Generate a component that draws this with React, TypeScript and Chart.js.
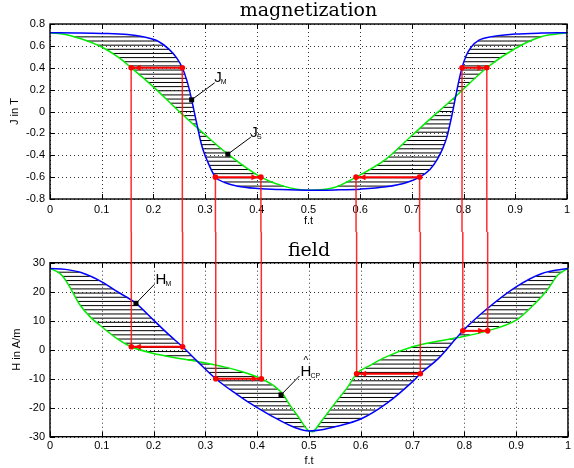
import React, { useEffect, useRef } from "react";
import { Chart, registerables } from "chart.js";

Chart.register(...registerables);

// ---------- data ----------
const xTicks = [0, 0.1, 0.2, 0.3, 0.4, 0.5, 0.6, 0.7, 0.8, 0.9, 1];
const jTicks = [-0.8, -0.6, -0.4, -0.2, 0, 0.2, 0.4, 0.6, 0.8];
const hTicks = [-30, -20, -10, 0, 10, 20, 30];

// magnetization J_M (blue)
const jmX = [0, 0.05, 0.1, 0.15, 0.18, 0.21, 0.23, 0.245, 0.256, 0.265, 0.272, 0.278, 0.282, 0.286, 0.29, 0.296, 0.305, 0.32, 0.338, 0.363, 0.402, 0.446, 0.5, 0.55, 0.6, 0.65, 0.69, 0.715, 0.735, 0.75, 0.76, 0.768, 0.774, 0.779, 0.784, 0.79, 0.797, 0.805, 0.815, 0.83, 0.86, 0.9, 0.95, 1];
const jmY = [0.72, 0.718, 0.714, 0.704, 0.683, 0.64, 0.57, 0.49, 0.4, 0.28, 0.15, 0.02, -0.07, -0.155, -0.245, -0.35, -0.46, -0.6, -0.649, -0.683, -0.704, -0.714, -0.72, -0.717, -0.71, -0.689, -0.649, -0.6, -0.53, -0.43, -0.335, -0.23, -0.11, 0.0, 0.12, 0.26, 0.4, 0.51, 0.59, 0.652, 0.689, 0.708, 0.717, 0.72];

// magnetization J_S (green)
const jsX = [0, 0.03, 0.06, 0.1, 0.134, 0.157, 0.2, 0.25, 0.286, 0.344, 0.408, 0.45, 0.5, 0.55, 0.592, 0.65, 0.7, 0.75, 0.783, 0.845, 0.9, 0.95, 1];
const jsY = [0.72, 0.705, 0.665, 0.59, 0.49, 0.4, 0.225, 0.0, -0.154, -0.39, -0.6, -0.68, -0.72, -0.695, -0.6, -0.435, -0.22, -0.006, 0.13, 0.4, 0.576, 0.683, 0.72];

// field H_M (blue)
const hmX = [0, 0.03, 0.06, 0.1, 0.13, 0.166, 0.2, 0.23, 0.256, 0.285, 0.32, 0.36, 0.4, 0.45, 0.475, 0.5, 0.525, 0.55, 0.6, 0.65, 0.7, 0.715, 0.75, 0.785, 0.797, 0.845, 0.9, 0.95, 1];
const hmY = [28, 27.7, 26.6, 23.4, 20.0, 16.0, 10.2, 5.1, 1.0, -4.1, -10, -15.3, -20, -25, -27, -28, -27.6, -26.6, -23.9, -18.5, -11.0, -8.3, -3.0, 4.1, 6.5, 14.3, 21.7, 26.3, 28];

// field H_CP (green)
const hsX = [0, 0.019, 0.03, 0.042, 0.058, 0.077, 0.1, 0.128, 0.157, 0.2, 0.237, 0.285, 0.34, 0.371, 0.408, 0.435, 0.451, 0.461, 0.48, 0.5, 0.509, 0.55, 0.575, 0.592, 0.62, 0.65, 0.7, 0.75, 0.785, 0.845, 0.9, 0.93, 0.96, 0.98, 1];
const hsY = [28, 26.3, 24, 20.4, 15.4, 11.4, 7.9, 4.0, 1.0, -1.3, -2.6, -4.1, -6.1, -7.6, -10, -12.8, -15.6, -18.5, -23.3, -28.0, -28.3, -18.5, -12.8, -8.3, -5.2, -2.4, 1.0, 3.0, 4.1, 6.5, 10.2, 14.8, 20.6, 25.7, 28];

// red construction arrows (blue point -> green point)
const arrowXBlue = [0.256, 0.32, 0.715, 0.797];
const arrowXGreen = [0.157, 0.408, 0.592, 0.845];
const arrowJ = [0.4, -0.6, -0.6, 0.4];
const arrowH = [1.0, -10, -8.3, 6.5];

// hatch spacing
const jHatchStep = 0.0379;
const hHatchStep = 1.44;

// annotations
const jLabelX = [0.274, 0.344];
const jLabelY = [0.107, -0.39];
const jLabelMain = ["J", "J"];
const jLabelSub = ["M", "S"];
const jLabelHat = [false, false];
const hLabelX = [0.166, 0.446];
const hLabelY = [16.0, -15.6];
const hLabelMain = ["H", "H"];
const hLabelSub = ["M", "CP"];
const hLabelHat = [false, true];

// ---------- helpers ----------
const FONT = '"Liberation Sans", Arial, sans-serif';
const SERIF = '"DejaVu Serif", serif';

const pts = (xs: number[], ys: number[]) => xs.map((x, i) => ({ x, y: ys[i] }));

function crossAt(xs: number[], ys: number[], level: number): number | null {
  for (let i = 0; i < xs.length - 1; i++) {
    const a = ys[i] - level;
    const b = ys[i + 1] - level;
    if (a === 0) return xs[i];
    if (a * b < 0) return xs[i] + ((xs[i + 1] - xs[i]) * a) / (a - b);
  }
  if (ys[ys.length - 1] === level) return xs[xs.length - 1];
  return null;
}

function splitAtMin(xs: number[], ys: number[]) {
  let k = 0;
  ys.forEach((v, i) => { if (v < ys[k]) k = i; });
  return [
    [xs.slice(0, k + 1), ys.slice(0, k + 1)],
    [xs.slice(k), ys.slice(k)],
  ];
}

function hatch(bx: number[], by: number[], gx: number[], gy: number[], step: number) {
  const b = splitAtMin(bx, by);
  const g = splitAtMin(gx, gy);
  const lo = Math.max(Math.min(...by), Math.min(...gy));
  const hi = Math.min(Math.max(...by), Math.max(...gy));
  const levels: number[] = [];
  for (let L = lo + step; L < hi; L += step) levels.push(L);
  const out: any[] = [];
  for (let h = 0; h < 2; h++) {
    for (const L of levels) {
      const xb = crossAt(b[h][0], b[h][1], L);
      const xg = crossAt(g[h][0], g[h][1], L);
      if (xb === null || xg === null) continue;
      out.push({ x: xg, y: L }, { x: xb, y: L }, { x: (xb + xg) / 2, y: null });
    }
  }
  return out;
}

const framePlugin = {
  id: "frame",
  beforeDatasetsDraw(chart: any) {
    const { ctx, chartArea: a } = chart;
    const sx = chart.scales.x;
    const sy = chart.scales.y;
    ctx.save();
    ctx.strokeStyle = "rgba(0,0,0,0.8)";
    ctx.lineWidth = 1;
    ctx.setLineDash([1, 3]);
    sx.ticks.forEach((t: any) => {
      const p = Math.round(sx.getPixelForValue(t.value)) + 0.5;
      ctx.beginPath(); ctx.moveTo(p, a.top); ctx.lineTo(p, a.bottom); ctx.stroke();
    });
    sy.ticks.forEach((t: any) => {
      const p = Math.round(sy.getPixelForValue(t.value)) + 0.5;
      ctx.beginPath(); ctx.moveTo(a.left, p); ctx.lineTo(a.right, p); ctx.stroke();
    });
    ctx.restore();
  },
  afterDatasetsDraw(chart: any) {
    const { ctx, chartArea: a } = chart;
    const sx = chart.scales.x;
    const sy = chart.scales.y;
    ctx.save();
    ctx.strokeStyle = "#000";
    ctx.lineWidth = 1.4;
    ctx.strokeRect(a.left, a.top, a.right - a.left, a.bottom - a.top);
    ctx.lineWidth = 1;
    const tl = 5;
    sx.ticks.forEach((t: any) => {
      const p = Math.round(sx.getPixelForValue(t.value)) + 0.5;
      ctx.beginPath();
      ctx.moveTo(p, a.bottom); ctx.lineTo(p, a.bottom - tl);
      ctx.moveTo(p, a.top); ctx.lineTo(p, a.top + tl);
      ctx.stroke();
    });
    sy.ticks.forEach((t: any) => {
      const p = Math.round(sy.getPixelForValue(t.value)) + 0.5;
      ctx.beginPath();
      ctx.moveTo(a.left, p); ctx.lineTo(a.left + tl, p);
      ctx.moveTo(a.right, p); ctx.lineTo(a.right - tl, p);
      ctx.stroke();
    });
    ctx.restore();
  },
};

function makeOverlay(
  levels: number[],
  down: boolean,
  lx: number[], ly: number[], lMain: string[], lSub: string[], lHat: boolean[],
  lead: [number, number], txt: [number, number]
) {
  return {
    id: "overlay",
    afterDraw(chart: any) {
      const { ctx } = chart;
      const sx = chart.scales.x;
      const sy = chart.scales.y;
      ctx.save();
      // vertical connectors
      ctx.strokeStyle = "rgba(255,20,20,0.9)";
      ctx.lineWidth = 1.5;
      for (let i = 0; i < levels.length; i++) {
        const py = sy.getPixelForValue(levels[i]);
        [arrowXBlue[i], arrowXGreen[i]].forEach((xv) => {
          const px = sx.getPixelForValue(xv);
          ctx.beginPath();
          ctx.moveTo(px, py);
          ctx.lineTo(px, down ? chart.height : 0);
          ctx.stroke();
        });
      }
      // horizontal arrows
      for (let i = 0; i < levels.length; i++) {
        const py = sy.getPixelForValue(levels[i]);
        const x1 = sx.getPixelForValue(arrowXBlue[i]);
        const x2 = sx.getPixelForValue(arrowXGreen[i]);
        const dir = Math.sign(x2 - x1);
        ctx.strokeStyle = "#ff0000";
        ctx.fillStyle = "#ff0000";
        ctx.lineWidth = 2;
        ctx.beginPath(); ctx.moveTo(x1, py); ctx.lineTo(x2, py); ctx.stroke();
        const tip = x2 - dir * 3.5;
        const base = tip - dir * 6;
        ctx.beginPath();
        ctx.moveTo(tip, py); ctx.lineTo(base, py - 3); ctx.lineTo(base, py + 3);
        ctx.closePath(); ctx.fill();
        [x1, x2].forEach((px) => {
          ctx.beginPath(); ctx.arc(px, py, 2.8, 0, Math.PI * 2); ctx.fill();
        });
      }
      // labels
      for (let i = 0; i < lx.length; i++) {
        const px = sx.getPixelForValue(lx[i]);
        const py = sy.getPixelForValue(ly[i]);
        ctx.fillStyle = "#000";
        ctx.strokeStyle = "#000";
        ctx.lineWidth = 1;
        ctx.beginPath(); ctx.moveTo(px, py); ctx.lineTo(px + lead[0], py + lead[1]); ctx.stroke();
        ctx.fillRect(px - 2.5, py - 2.5, 5, 5);
        const tx = px + txt[0];
        const ty = py + txt[1];
        ctx.textAlign = "left";
        ctx.textBaseline = "alphabetic";
        ctx.font = "15px " + FONT;
        ctx.fillText(lMain[i], tx, ty);
        const w = ctx.measureText(lMain[i]).width;
        if (lHat[i]) {
          ctx.font = "10px " + FONT;
          ctx.textAlign = "center";
          ctx.fillText("^", tx + w / 2, ty - 12.3);
          ctx.textAlign = "left";
        }
        ctx.font = "7px " + FONT;
        ctx.fillText(lSub[i], tx + w - 0.8, ty + 2);
      }
      ctx.restore();
    },
  };
}

function xScale(pad: number, height: number, titlePad: number) {
  return {
    type: "linear",
    min: 0,
    max: 1,
    grid: { display: false, drawTicks: false, tickLength: 0 },
    border: { display: false },
    afterBuildTicks: (s: any) => { s.ticks = xTicks.map((v) => ({ value: v })); },
    afterFit: (s: any) => { s.height = height; },
    ticks: { autoSkip: false, maxRotation: 0, minRotation: 0, padding: pad, color: "#000", font: { family: FONT, size: 11 }, callback: (v: any) => String(v) },
    title: { display: true, text: "f.t", color: "#000", font: { family: FONT, size: 11 }, padding: { top: 0, bottom: titlePad } },
  };
}

function yScale(min: number, max: number, ticks: number[], title: string, titlePad: number) {
  return {
    type: "linear",
    min,
    max,
    grid: { display: false, drawTicks: false, tickLength: 0 },
    border: { display: false },
    afterBuildTicks: (s: any) => { s.ticks = ticks.map((v) => ({ value: v })); },
    afterFit: (s: any) => { s.width = 50; },
    ticks: { autoSkip: false, padding: 5, color: "#000", font: { family: FONT, size: 11 }, callback: (v: any) => String(v) },
    title: { display: true, text: title, color: "#000", font: { family: FONT, size: 11 }, padding: { top: titlePad, bottom: 0 } },
  };
}

const curve = (data: any[], color: string) => ({
  data,
  borderColor: color,
  borderWidth: 1.5,
  pointRadius: 0,
  fill: false,
  cubicInterpolationMode: "monotone",
});

export default function App() {
  const topRef = useRef<HTMLCanvasElement>(null);
  const botRef = useRef<HTMLCanvasElement>(null);

  useEffect(() => {
    const hsSplit = splitAtMin(hsX, hsY);
    const common = {
      responsive: false,
      maintainAspectRatio: false,
      animation: false,
      events: [],
      layout: { autoPadding: false, padding: { left: 0, right: 1, top: 0, bottom: 0 } },
    };

    const top = new Chart(topRef.current as HTMLCanvasElement, {
      type: "line",
      data: {
        datasets: [
          curve(pts(jmX, jmY), "#0000ff"),
          curve(pts(jsX, jsY), "#00ee00"),
          { data: hatch(jmX, jmY, jsX, jsY, jHatchStep), borderColor: "#000", borderWidth: 1, pointRadius: 0, spanGaps: false, fill: false },
        ],
      } as any,
      options: {
        ...common,
        plugins: {
          legend: { display: false },
          tooltip: { enabled: false },
          title: { display: true, text: "magnetization", color: "#000", fullSize: false, font: { family: SERIF, size: 19, weight: "normal" }, padding: { top: 0, bottom: 1.2 } },
        },
        scales: { x: xScale(4, 33, 4.2), y: yScale(-0.8, 0.8, jTicks, "J in T", 8) },
      } as any,
      plugins: [framePlugin, makeOverlay(arrowJ, true, jLabelX, jLabelY, jLabelMain, jLabelSub, jLabelHat, [23, -17], [22.5, -17.3])],
    });

    const bot = new Chart(botRef.current as HTMLCanvasElement, {
      type: "line",
      data: {
        datasets: [
          curve(pts(hmX, hmY), "#0000ff"),
          curve(pts(hsSplit[0][0], hsSplit[0][1]), "#00ee00"),
          curve(pts(hsSplit[1][0], hsSplit[1][1]), "#00ee00"),
          { data: hatch(hmX, hmY, hsX, hsY, hHatchStep), borderColor: "#000", borderWidth: 1, pointRadius: 0, spanGaps: false, fill: false },
        ],
      } as any,
      options: {
        ...common,
        plugins: {
          legend: { display: false },
          tooltip: { enabled: false },
          title: { display: true, text: "field", color: "#000", fullSize: false, font: { family: SERIF, size: 19, weight: "normal" }, padding: { top: 7.6, bottom: 0.3 } },
        },
        scales: { x: xScale(3, 31.3, 0.2), y: yScale(-30, 30, hTicks, "H in A/m", 10) },
      } as any,
      plugins: [framePlugin, makeOverlay(arrowH, false, hLabelX, hLabelY, hLabelMain, hLabelSub, hLabelHat, [18.5, -19], [19.5, -19])],
    });

    return () => {
      top.destroy();
      bot.destroy();
    };
  }, []);

  return (
    <div style={{ position: "absolute", left: 0, top: 0, width: 574, height: 468, background: "#fff" }}>
      <canvas ref={topRef} width={574} height={232} style={{ position: "absolute", left: 0, top: 0, width: 574, height: 232 }} />
      <canvas ref={botRef} width={574} height={236} style={{ position: "absolute", left: 0, top: 232, width: 574, height: 236 }} />
    </div>
  );
}
